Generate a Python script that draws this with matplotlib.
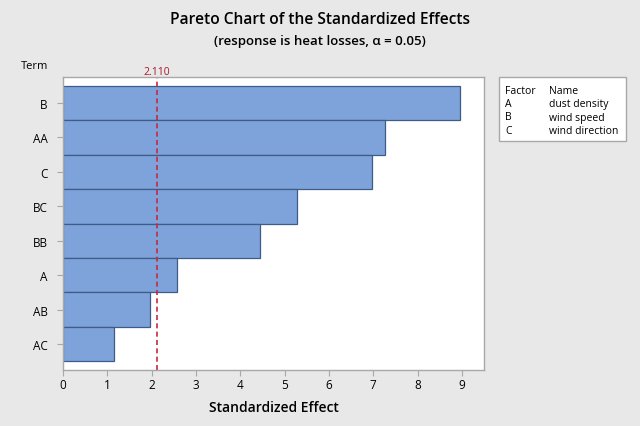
import matplotlib
matplotlib.use("Agg")
import matplotlib.pyplot as plt
from matplotlib.patches import Rectangle

plt.rcParams['font.family'] = ['Open Sans', 'DejaVu Sans']

terms = ["B", "AA", "C", "BC", "BB", "A", "AB", "AC"]
effects = [8.96, 7.27, 6.97, 5.29, 4.44, 2.57, 1.97, 1.16]
critical = 2.110
xticks = list(range(0, 10))
factors = ["A", "B", "C"]
names = ["dust density", "wind speed", "wind direction"]

bg = "#E8E8E8"
fig = plt.figure(figsize=(6.4, 4.27), dpi=100, facecolor=bg)
ax = fig.add_axes([63/640, 1-371/427, (484-63)/640, (371-78)/427])
ax.set_facecolor("white")

ypos = list(range(len(terms)))
ax.barh(ypos, effects, height=1.0, color="#7EA3DB", edgecolor="#3E5C87", linewidth=0.9)
ax.set_ylim(len(terms) - 0.25, -0.75)
ax.set_xlim(0, 9.5)
ax.set_yticks(ypos)
ax.set_yticklabels(terms)
ax.set_xticks(xticks)

ax.axvline(critical, color="#C8283F", linestyle=(0, (3, 2)), linewidth=1.2)
ax.text(critical, 1.0, f"{critical:.3f}", transform=ax.get_xaxis_transform(),
        ha="center", va="bottom", color="#A8192E", fontsize=7.5)

for s in ax.spines.values():
    s.set_color("#A8A8A8")
    s.set_linewidth(1.0)
ax.tick_params(axis="both", colors="#A8A8A8", labelcolor="black", labelsize=8.5, length=4)
ax.tick_params(axis="y", pad=7)
ax.tick_params(axis="x", pad=2)

ax.set_xlabel("Standardized Effect", fontsize=10, fontweight="semibold", labelpad=6)
fig.text(35/640, 1-67/427, "Term", ha="center", va="center", fontsize=8)

fig.text(0.5, 1-20/427, "Pareto Chart of the Standardized Effects", ha="center", va="center",
         fontsize=11.2, fontweight="semibold")
fig.text(0.5, 1-41/427, "(response is heat losses, \u03b1 = 0.05)", ha="center", va="center",
         fontsize=9.5, fontweight="semibold")

# legend box
box = Rectangle((499/640, 1-142/427), (626-499)/640, (142-78)/427, transform=fig.transFigure,
                facecolor="white", edgecolor="#A8A8A8", linewidth=1.0)
fig.add_artist(box)
rows_y = [91, 104.5, 118, 131.5]
fs = 7.5
fig.text(505/640, 1-rows_y[0]/427, "Factor", fontsize=fs, va="center")
fig.text(549/640, 1-rows_y[0]/427, "Name", fontsize=fs, va="center")
for i, (f, n) in enumerate(zip(factors, names)):
    fig.text(505/640, 1-rows_y[i+1]/427, f, fontsize=fs, va="center")
    fig.text(549/640, 1-rows_y[i+1]/427, n, fontsize=fs, va="center")

fig.savefig("out.png", dpi=100, facecolor=bg)
